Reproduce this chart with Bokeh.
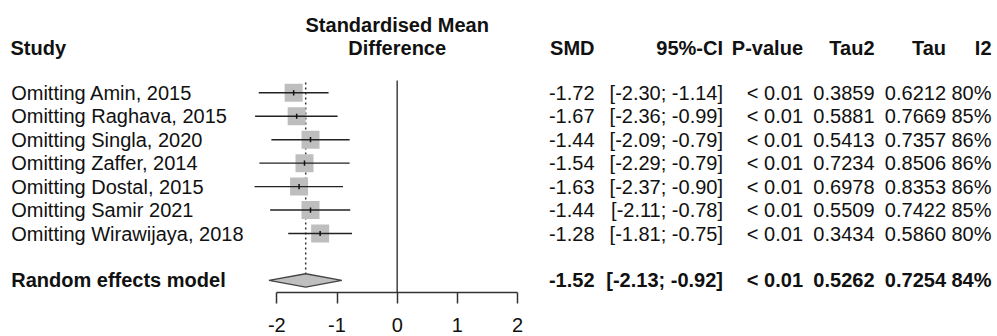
from bokeh.plotting import figure
from bokeh.models import Range1d, LinearAxis, FixedTicker, ColumnDataSource
from bokeh.core.properties import value
from bokeh.embed import file_html
from bokeh.resources import INLINE

# ---------------- data ----------------
studies = ["Omitting Amin, 2015", "Omitting Raghava, 2015", "Omitting Singla, 2020",
           "Omitting Zaffer, 2014", "Omitting Dostal, 2015", "Omitting Samir 2021",
           "Omitting Wirawijaya, 2018"]
smd = [-1.72, -1.67, -1.44, -1.54, -1.63, -1.44, -1.28]
ci_lo = [-2.30, -2.36, -2.09, -2.29, -2.37, -2.11, -1.81]
ci_hi = [-1.14, -0.99, -0.79, -0.79, -0.90, -0.78, -0.75]
pval = ["< 0.01"] * 7
tau2 = [0.3859, 0.5881, 0.5413, 0.7234, 0.6978, 0.5509, 0.3434]
tau = [0.6212, 0.7669, 0.7357, 0.8506, 0.8353, 0.7422, 0.5860]
i2 = [80, 85, 86, 86, 86, 85, 80]

pooled_label = "Random effects model"
pooled_smd = -1.52
pooled_lo = -2.13
pooled_hi = -0.92
pooled_p = "< 0.01"
pooled_tau2 = 0.5262
pooled_tau = 0.7254
pooled_i2 = 84

x_ticks = [-2, -1, 0, 1, 2]
col_headers = ["SMD", "95%-CI", "P-value", "Tau2", "Tau", "I2"]

# ---------------- layout constants ----------------
W, H = 997, 336
PX_PER_UNIT = 60.2
ZERO_PX = 396.7
ROW0_PX = 92.3
ROW_PX = 23.45
FONT = "Liberation Sans"
FS = "20px"
TXT = "#111111"

n = len(studies)
rows = list(range(n))
pooled_row = n + 1
axis_row = pooled_row + 0.53
header_row = -1.91
header_row2 = -2.91

x_start = -ZERO_PX / PX_PER_UNIT
x_end = (W - ZERO_PX) / PX_PER_UNIT
y_top = -ROW0_PX / ROW_PX
y_bot = (H - ROW0_PX) / ROW_PX

p = figure(width=W, height=H, output_backend="svg", toolbar_location=None,
           x_range=Range1d(x_start, x_end), y_range=Range1d(y_bot, y_top),
           x_axis_type=None, y_axis_type=None, min_border=0)
p.extra_x_ranges = {"px": Range1d(0, W)}
p.outline_line_color = None
p.xgrid.visible = False
p.ygrid.visible = False
p.background_fill_color = "white"
p.border_fill_color = "white"

# zero reference line
p.segment(x0=[0], x1=[0], y0=[-0.52], y1=[axis_row], line_color="#4d4d4d", line_width=1.6)
# pooled estimate dotted line
p.segment(x0=[pooled_smd], x1=[pooled_smd], y0=[-0.44], y1=[pooled_row - 0.29],
          line_color="#333333", line_width=1.5, line_dash="2 3")

# study squares, CIs, and estimate ticks
src = ColumnDataSource(dict(row=rows, smd=smd, lo=ci_lo, hi=ci_hi,
                            t0=[r - 0.11 for r in rows], t1=[r + 0.11 for r in rows]))
p.scatter(x="smd", y="row", source=src, marker="square", size=18,
          fill_color="#bebebe", line_color=None)
p.segment(x0="lo", x1="hi", y0="row", y1="row", source=src, line_color="#222222", line_width=1.4)
p.segment(x0="smd", x1="smd", y0="t0", y1="t1", source=src, line_color="#111111", line_width=1.5)

# pooled diamond
h = 0.285
p.patch(x=[pooled_lo, pooled_smd, pooled_hi, pooled_smd],
        y=[pooled_row, pooled_row - h, pooled_row, pooled_row + h],
        fill_color="#bfbfbf", line_color="#444444", line_width=1.4)

# x axis
ax = LinearAxis(fixed_location=axis_row, bounds=(-2, 2), ticker=FixedTicker(ticks=x_ticks),
                major_tick_out=11, major_tick_in=0, minor_tick_line_color=None,
                axis_line_color="#333333", axis_line_width=1.5,
                major_tick_line_color="#333333", major_tick_line_width=1.5,
                major_label_text_font=FONT, major_label_text_font_size=FS,
                major_label_text_color=TXT, major_label_standoff=14,
                major_label_overrides={t: str(t) for t in x_ticks})
p.add_layout(ax, "below")

def txt(x, y, s, align, bold=False, xr="px"):
    p.text(x=x, y=y, text=s, x_range_name=xr, text_font=value(FONT), text_font_size=FS,
           text_font_style="bold" if bold else "normal", text_color=TXT,
           text_align=align, text_baseline="middle")

# left study labels
txt([10.7] * n, rows, studies, "left")
txt([10.7], [pooled_row], [pooled_label], "left", bold=True)
txt([10.0], [header_row], ["Study"], "left", bold=True)
txt([0], [header_row2], ["Standardised Mean"], "center", bold=True, xr="default")
txt([0], [header_row], ["Difference"], "center", bold=True, xr="default")

# right columns
col_x = [594.0, 722.5, 802.5, 874.0, 945.5, 991.0]
col_vals = [
    [f"{v:.2f}" for v in smd],
    [f"[{a:.2f}; {b:.2f}]" for a, b in zip(ci_lo, ci_hi)],
    pval,
    [f"{v:.4f}" for v in tau2],
    [f"{v:.4f}" for v in tau],
    [f"{v}%" for v in i2],
]
pooled_vals = [f"{pooled_smd:.2f}", f"[{pooled_lo:.2f}; {pooled_hi:.2f}]", pooled_p,
               f"{pooled_tau2:.4f}", f"{pooled_tau:.4f}", f"{pooled_i2}%"]
for cx, hdr, vals, pv in zip(col_x, col_headers, col_vals, pooled_vals):
    txt([cx], [header_row], [hdr], "right", bold=True)
    txt([cx] * n, rows, vals, "right")
    txt([cx], [pooled_row], [pv], "right", bold=True)

open("out.html", "w").write(file_html(p, INLINE))
